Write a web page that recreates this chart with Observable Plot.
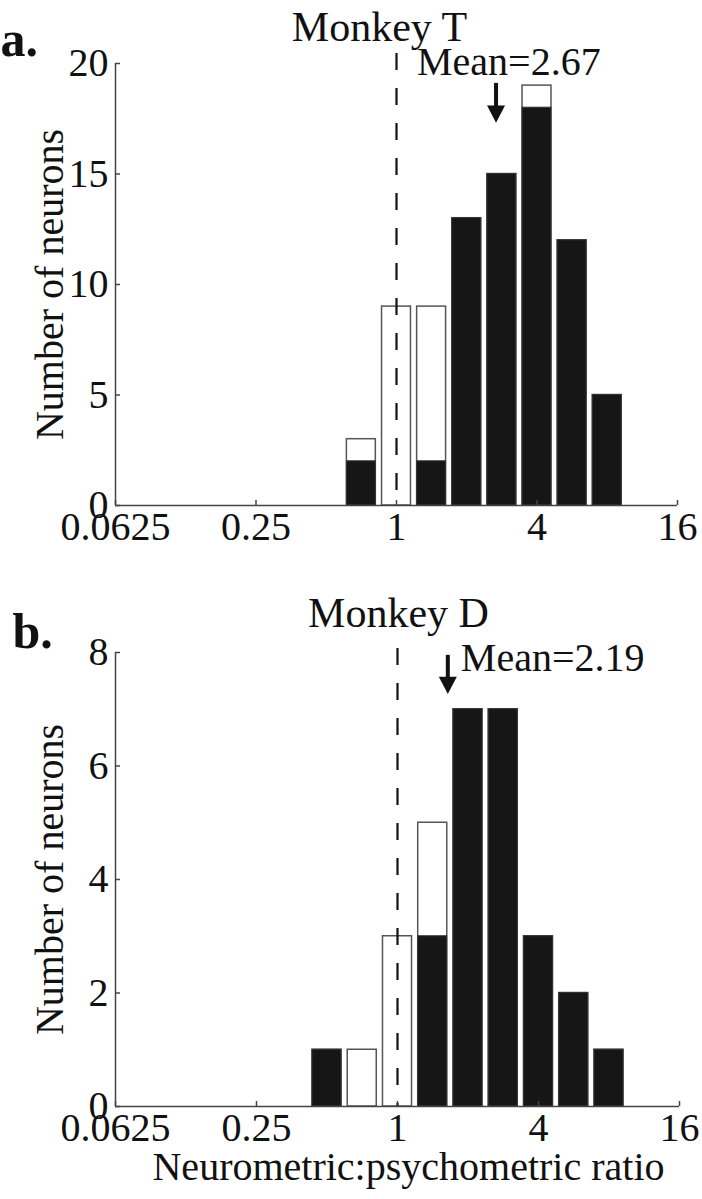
<!DOCTYPE html>
<html><head><meta charset="utf-8">
<script src="https://cdn.jsdelivr.net/npm/d3@7"></script>
<script src="https://cdn.jsdelivr.net/npm/@observablehq/plot@0.6"></script>
<style>
body{margin:0;background:#fff;}
#wrap{width:702px;height:1199px;overflow:hidden;background:#fff}
#wrap svg{display:block}
</style></head><body><div id="wrap"></div>
<script>
// ---- data ----
const xTicks = [0.0625, 0.25, 1, 4, 16];
const xTickLabels = ["0.0625", "0.25", "1", "4", "16"];

// Monkey T
const binsA = [0.707, 1, 1.414, 2, 2.828, 4, 5.657, 8];
const totalA = [3, 9, 9, 13, 15, 19, 12, 5];
const sigA   = [2, 0, 2, 13, 15, 18, 12, 5];
const yTicksA = [0, 5, 10, 15, 20];
const meanLabelA = "Mean=2.67";
const meanArrowA = 2.67;

// Monkey D
const binsB = [0.5, 0.707, 1, 1.414, 2, 2.828, 4, 5.657, 8];
const totalB = [1, 1, 3, 5, 7, 7, 3, 2, 1];
const sigB   = [1, 0, 0, 3, 7, 7, 3, 2, 1];
const yTicksB = [0, 2, 4, 6, 8];
const meanLabelB = "Mean=2.19";
const meanArrowB = 1.64;

const titles = ["Monkey T", "Monkey D"];
const letters = ["a.", "b."];
const yLabel = "Number of neurons";
const xLabel = "Neurometric:psychometric ratio";

// ---- styling ----
const fontFamily = '"Liberation Serif","Times New Roman",serif';
const barHalfWidth = 0.206; // in octaves
const downTriangle = {
  draw(ctx, size) {
    const a = Math.sqrt(size / Math.PI);
    ctx.moveTo(-a, -a * 0.95);
    ctx.lineTo(a, -a * 0.95);
    ctx.lineTo(0, a * 0.95);
    ctx.closePath();
  }
};

function panel(o) {
  const rows = o.bins.map((c, i) => ({c, total: o.total[i], sig: o.sig[i]}));
  const hw = 2 ** barHalfWidth;
  const ann = [{x: o.arrowX, label: o.meanLabel}];
  return Plot.plot({
    width: 702,
    height: o.height,
    marginLeft: 115,
    marginRight: o.marginRight,
    marginTop: o.marginTop,
    marginBottom: o.marginBottom,
    style: {fontFamily, fontSize: "40px", color: "#111", background: "white", overflow: "visible"},
    x: {type: "log", base: 2, domain: [xTicks[0], xTicks[xTicks.length - 1]], axis: null},
    y: {domain: [0, o.yTicks[o.yTicks.length - 1]], axis: null},
    marks: [
      Plot.rect(rows, {x1: d => d.c / hw, x2: d => d.c * hw, y1: 0, y2: "total", fill: "white", stroke: "#555", strokeWidth: 1.5}),
      Plot.rect(rows.filter(d => d.sig > 0), {x1: d => d.c / hw, x2: d => d.c * hw, y1: 0, y2: "sig", fill: "#161616", stroke: "#333", strokeWidth: 1}),
      Plot.ruleX([1], {stroke: "#111", strokeWidth: 2.2, strokeDasharray: "17,18", insetTop: o.dashInset}),
      Plot.ruleY([0], {stroke: "#444", strokeWidth: 1.5}),
      Plot.ruleX([xTicks[0]], {stroke: "#444", strokeWidth: 1.5}),
      Plot.axisX({ticks: xTicks, tickFormat: d => xTickLabels[xTicks.indexOf(d)], tickSize: -5, tickPadding: 11, stroke: "#444", strokeWidth: 1.5, label: null}),
      Plot.axisY({ticks: o.yTicks, tickSize: -5, tickPadding: 12, stroke: "#444", strokeWidth: 1.5, label: null}),
      // mean arrow
      Plot.ruleX(ann, {x: "x", y1: o.arrowTop, y2: o.arrowShaftBottom, stroke: "#111", strokeWidth: 4}),
      Plot.dot(ann, {x: "x", y: o.arrowHead, symbol: downTriangle, r: 9, fill: "#111", stroke: "none"}),
      Plot.text(ann, {x: "x", y: o.labelY, text: "label", textAnchor: "start", lineAnchor: "bottom", dx: o.labelDx}),
      // titles
      Plot.text([o.title], {text: d => d, frameAnchor: "top", lineAnchor: "bottom", dx: o.titleDx, dy: o.titleDy, fontSize: 42}),
      Plot.text([o.letter], {text: d => d, frameAnchor: "top-left", textAnchor: "start", lineAnchor: "bottom", dx: o.letterDx, dy: o.letterDy, fontWeight: "bold", fontSize: 50}),
      Plot.text([yLabel], {text: d => d, frameAnchor: "left", rotate: -90, textAnchor: "middle", lineAnchor: "bottom", dx: -53}),
      ...(o.xLabel ? [Plot.text([o.xLabel], {text: d => d, frameAnchor: "bottom", lineAnchor: "bottom", dx: 11, dy: 73})] : [])
    ]
  });
}

const wrap = document.getElementById("wrap");
wrap.append(panel({
  bins: binsA, total: totalA, sig: sigA, yTicks: yTicksA,
  height: 560, marginTop: 63, marginBottom: 55, marginRight: 25, dashInset: -10,
  arrowX: meanArrowA, meanLabel: meanLabelA,
  arrowTop: 19.1, arrowShaftBottom: 17.9, arrowHead: 17.71, labelY: 19.46, labelDx: -79,
  title: titles[0], titleDx: -17, titleDy: -23,
  letter: letters[0], letterDx: -115, letterDy: -8
}));
wrap.append(panel({
  bins: binsB, total: totalB, sig: sigB, yTicks: yTicksB,
  height: 639, marginTop: 92, marginBottom: 93, marginRight: 23, dashInset: -4,
  arrowX: meanArrowB, meanLabel: meanLabelB,
  arrowTop: 7.95, arrowShaftBottom: 7.51, arrowHead: 7.42, labelY: 7.68, labelDx: 13,
  title: titles[1], titleDx: 1, titleDy: -26,
  letter: letters[1], letterDx: -103, letterDy: -5,
  xLabel: xLabel
}));
</script></body></html>
